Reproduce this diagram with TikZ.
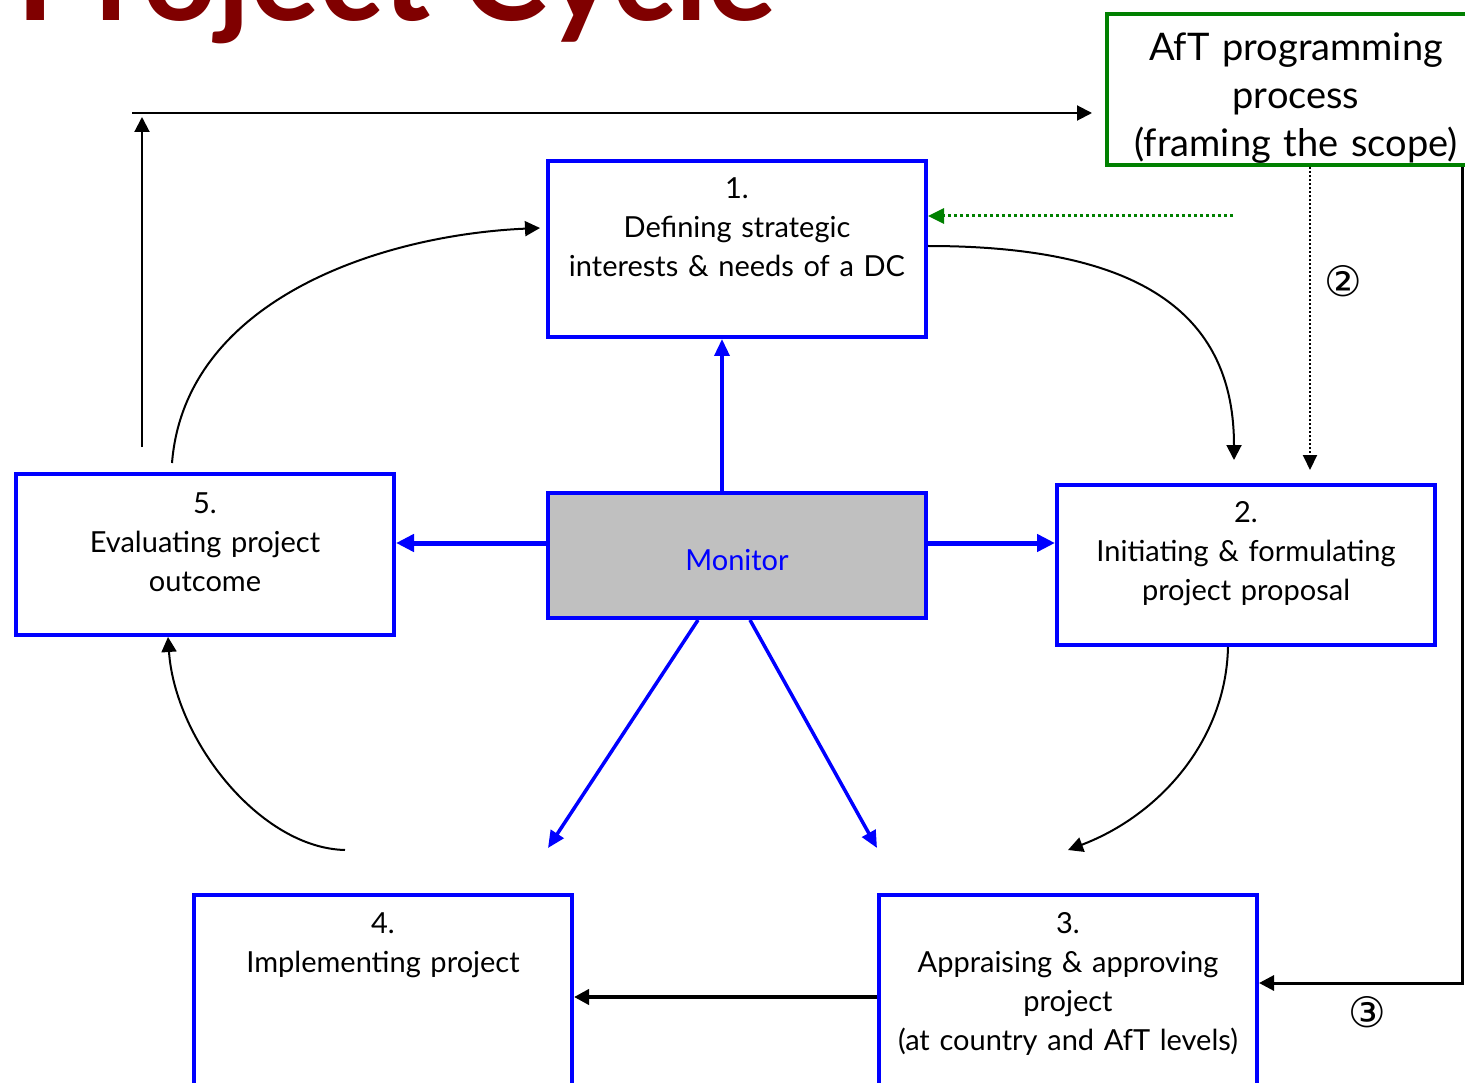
\documentclass[tikz,border=0pt]{standalone}
\usepackage{fontspec}
\setmainfont{Lato}
\newfontfamily\djv{DejaVu Sans}
\usetikzlibrary{arrows.meta}
\definecolor{tblue}{RGB}{0,0,255}
\definecolor{tgreen}{RGB}{0,128,0}
\definecolor{tred}{RGB}{128,0,0}
\definecolor{tgray}{RGB}{192,192,192}
\begin{document}
\begin{tikzpicture}[x=1pt,y=-1pt,
  stagebox/.style={draw=tblue, line width=4pt, minimum width=378pt, inner sep=0pt},
  boxtext/.style={anchor=base, inner sep=0pt, text width=380pt, align=center, font=\fontsize{29pt}{39pt}\selectfont},
  thinarrow/.style={draw=black, line width=2pt, -{Triangle[length=15pt,width=15pt]}},
  thickarrow/.style={draw=black, line width=4pt, -{Triangle[length=15pt,width=15pt]}},
  bluearrow/.style={draw=tblue, line width=5pt, -{Triangle[length=18pt,width=17pt]}},
  bluediag/.style={draw=tblue, line width=3.5pt, -{Triangle[length=17pt,width=15pt]}},
  greendot/.style={draw=tgreen, line width=3pt, dash pattern=on 3pt off 3pt, -{Triangle[length=16pt,width=15pt]}},
  blackdot/.style={draw=black, line width=2pt, dash pattern=on 2pt off 2pt, -{Triangle[length=15pt,width=14pt]}},
  circnum/.style={inner sep=0pt, font=\djv\fontsize{42pt}{42pt}\selectfont}
]
\useasboundingbox (0,0) rectangle (1465,1083);
\clip (0,0) rectangle (1465,1083);
\fill[white] (0,0) rectangle (1465,1083);

% title
\node[anchor=base west, inner sep=0pt, text=tred, font=\bfseries\fontsize{130pt}{130pt}\selectfont] (title) at (16,21) {Project Cycle};

% boxes
\node[stagebox, minimum height=176pt] (b1) at (737,249) {};
\node[stagebox, minimum height=125pt, fill=tgray] (mon) at (737,555.5) {};
\node[stagebox, minimum height=160pt] (b2) at (1246,565) {};
\node[stagebox, minimum height=161pt] (b5) at (205,554.5) {};
\node[stagebox, minimum height=255pt] (b4) at (383,1022.5) {};
\node[stagebox, minimum height=255pt] (b3) at (1068,1022.5) {};
\node[draw=tgreen, line width=4pt, minimum width=361pt, minimum height=151pt, inner sep=0pt] (aft) at (1287.5,89.5) {};

% texts
\node[boxtext] (t1) at (737,199) {1.\\Defining strategic\\interests \& needs of a DC};
\node[boxtext, text=tblue] (tm) at (737,570) {Monitor};
\node[boxtext] (t2) at (1246,522) {2.\\Initiating \& formulating\\project proposal};
\node[boxtext] (t5) at (205,513) {5.\\Evaluating project\\outcome};
\node[boxtext] (t4) at (383,933) {4.\\Implementing project};
\node[boxtext] (t3) at (1068,933) {3.\\Appraising \& approving\\project\\(at country and AfT levels)};
\node[boxtext, font=\fontsize{38pt}{48pt}\selectfont] (ta) at (1296,61) {AfT programming\\process\\(framing the scope)};

\node[circnum] (c2) at (1343,281) {②};
\node[circnum] (c3) at (1367,1012) {③};

% free ends
\coordinate (vup0) at (142,447);
\coordinate (vup1) at (142,117);
\coordinate (hr0) at (132,113);
\coordinate (hr1) at (1092,113);
\coordinate (c51s) at (172,463);
\coordinate (c51e) at ([yshift=21pt]b1.west);
\coordinate (c12e) at (1234,460);
\coordinate (c23e) at (1068,850);
\coordinate (c45s) at (345,850);
\coordinate (dl) at (548,848);
\coordinate (dr) at (877,848);
\coordinate (bd) at (1310,470);
\coordinate (mw) at ([yshift=12.5pt]mon.west);
\coordinate (me) at ([yshift=12.5pt]mon.east);
\coordinate (b3w) at ([yshift=25.5pt]b3.west);
\coordinate (b3e) at ([yshift=39.5pt]b3.east);
\coordinate (ge) at ([yshift=33pt]b1.east);

% black connectors
\draw[thinarrow] (vup0) -- (vup1);
\draw[thinarrow] (hr0) -- (hr1);
\draw[thinarrow] (c51s) .. controls (185,300) and (380,235) .. ([xshift=-6pt]c51e);
\draw[thinarrow] ([yshift=3pt]b1.east) .. controls (1150,246) and (1234,320) .. (c12e);
\draw[thinarrow] ([xshift=-18pt]b2.south) .. controls (1226,740) and (1160,815) .. (c23e);
\draw[thinarrow] (c45s) .. controls (260,848) and (175,740) .. ([xshift=-37pt]b5.south);
\draw[thickarrow] (b3w) -- (b3w -| b4.east);
\draw[draw=black, line width=3pt, -{Triangle[length=15pt,width=15pt]}] ([xshift=174.5pt]aft.south) |- (b3e);

% dotted
\draw[greendot] (1233,216) -- (ge);
\draw[blackdot] ([xshift=22.5pt]aft.south) -- (bd);

% blue connectors
\draw[bluediag] ([xshift=-15pt]mon.north) -- ([xshift=-15pt]b1.south);
\draw[bluearrow] (mw) -- (mw -| b5.east);
\draw[bluearrow] (me) -- (me -| b2.west);
\draw[bluediag] ([xshift=-39pt]mon.south) -- (dl);
\draw[bluediag] ([xshift=13pt]mon.south) -- (dr);
\end{tikzpicture}
\end{document}
